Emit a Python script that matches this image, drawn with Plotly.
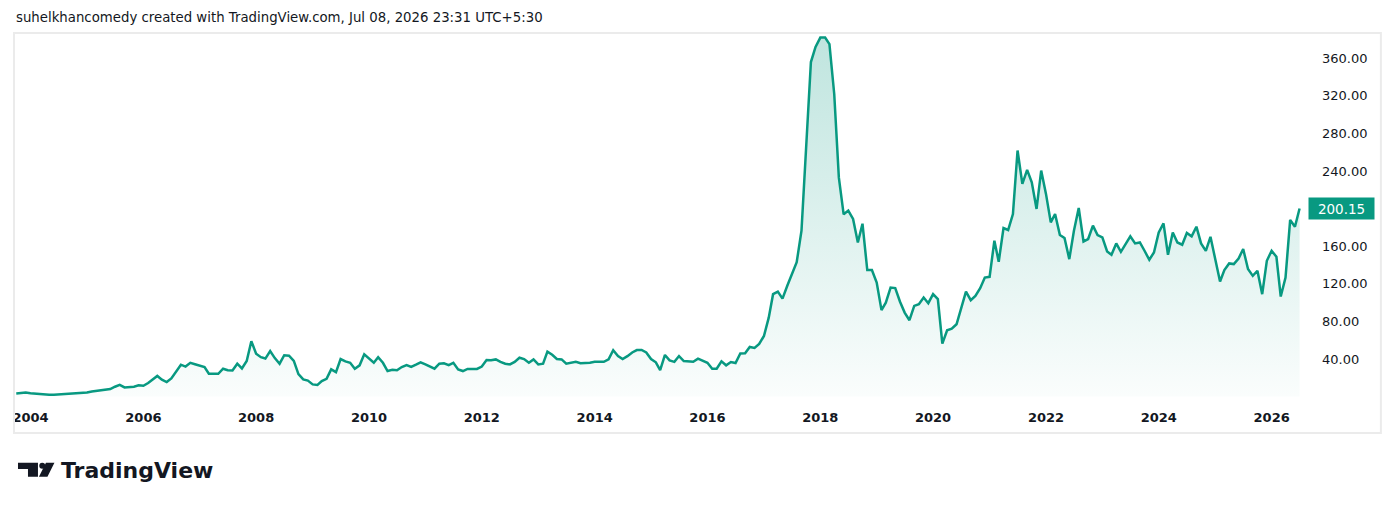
import pandas as pd
import plotly.graph_objects as go

# Monthly closes (Oct 2003 .. Jul 2026)
close_2003 = [3.4, 4.2, 4.4]
close_2004 = [3.5, 3.0, 2.3, 2.1, 2.1, 2.0, 2.3, 2.6, 3.0, 3.0, 3.0, 3.6]
close_2005 = [4.3, 5.5, 6.2, 7.0, 7.6, 8.0, 10.5, 12.5, 9.8, 9.9, 10.5, 12.0]
close_2006 = [11.5, 14.5, 18.5, 22.0, 18.0, 15.5, 19.4, 27.0, 34.0, 32.0, 36.0, 34.5]
close_2007 = [33.0, 31.5, 24.3, 24.3, 24.3, 29.7, 28.0, 27.7, 35.0, 30.0, 37.9, 59.0]
close_2008 = [45.7, 42.0, 40.5, 48.5, 41.0, 35.0, 44.0, 43.5, 38.0, 24.0, 18.3, 17.0]
close_2009 = [13.0, 12.5, 16.5, 19.0, 29.0, 26.0, 40.0, 37.5, 36.0, 29.7, 33.3, 45.0]
close_2010 = [40.7, 36.0, 42.0, 36.0, 27.2, 28.5, 28.0, 31.5, 33.6, 31.6, 34.0, 36.5]
close_2011 = [34.3, 32.0, 29.7, 35.0, 35.4, 33.5, 36.0, 29.0, 27.2, 29.5, 29.2, 29.5]
close_2012 = [32.0, 39.0, 38.7, 39.6, 37.0, 35.0, 34.3, 37.0, 41.4, 40.0, 36.0, 39.6]
close_2013 = [34.3, 35.0, 47.8, 44.5, 40.0, 39.6, 35.0, 36.0, 37.0, 35.5, 35.4, 36.0]
close_2014 = [37.0, 37.0, 37.0, 39.6, 49.3, 43.2, 40.0, 43.0, 47.0, 49.5, 49.6, 47.0]
close_2015 = [40.0, 36.5, 28.3, 44.3, 38.6, 37.0, 43.2, 37.9, 37.5, 37.0, 40.4, 37.9]
close_2016 = [36.0, 29.7, 29.7, 37.5, 33.3, 36.8, 35.7, 46.0, 46.2, 52.8, 51.8, 56.0]
close_2017 = [64.5, 84.0, 109.0, 111.8, 104.3, 118.0, 130.0, 143.0, 176.5, 268.0, 356.0, 372.0]
close_2018 = [382.0, 382.0, 375.0, 322.0, 233.0, 194.0, 198.0, 189.0, 164.0, 184.0, 134.6, 134.6]
close_2019 = [121.4, 92.0, 100.0, 116.0, 115.5, 101.0, 89.4, 81.3, 96.5, 98.3, 105.4, 99.4]
close_2020 = [109.0, 103.7, 56.3, 70.6, 72.3, 77.0, 93.0, 111.8, 102.6, 107.2, 115.4, 126.7]
close_2021 = [127.5, 165.9, 143.5, 179.4, 177.3, 194.3, 261.9, 226.3, 241.3, 228.0, 199.7, 240.5]
close_2022 = [215.7, 185.4, 194.3, 172.0, 168.7, 146.3, 176.5, 200.7, 165.1, 167.7, 181.9, 171.9]
close_2023 = [169.4, 154.5, 150.9, 163.0, 154.1, 162.3, 170.5, 163.0, 164.0, 155.2, 145.6, 153.4]
close_2024 = [174.7, 184.3, 150.9, 174.7, 164.0, 161.6, 174.1, 170.5, 180.8, 163.0, 155.0, 170.0]
close_2025 = [144.5, 122.5, 134.6, 141.7, 141.0, 147.0, 157.0, 135.7, 128.5, 133.9, 109.0, 144.5]
close_2026 = [155.2, 148.8, 106.5, 126.7, 188.0, 180.8, 200.15]

closes = (close_2003 + close_2004 + close_2005 + close_2006 + close_2007 + close_2008
          + close_2009 + close_2010 + close_2011 + close_2012 + close_2013 + close_2014
          + close_2015 + close_2016 + close_2017 + close_2018 + close_2019 + close_2020
          + close_2021 + close_2022 + close_2023 + close_2024 + close_2025 + close_2026)
dates = pd.date_range("2003-10-01", periods=len(closes), freq="MS")

year_ticks = [str(y) for y in range(2004, 2027, 2)]
price_ticks = [40, 80, 120, 160, 240, 280, 320, 360]  # 200 sits under the last-price tag

header = "suhelkhancomedy created with TradingView.com, Jul 08, 2026 23:31 UTC+5:30"
GREEN = "#089981"
TEXT = "#131722"
FONT = "DejaVu Sans"

# page geometry (pixels)
W, H = 1394, 509
L, R, T, B = 12, 1305, 33, 400
px_per_day = 56.5 / 365.25
x_first_tick = 28.5  # Jan 2004


def px(x):
    return (x - L) / (R - L)


def py(y):
    return (B - y) / (B - T)


x0 = pd.Timestamp("2004-01-01") - pd.Timedelta(days=(x_first_tick - L) / px_per_day)
x1 = x0 + pd.Timedelta(days=(R - L) / px_per_day)

fig = go.Figure()
fig.add_trace(go.Scatter(
    x=dates, y=closes, mode="lines",
    line=dict(color=GREEN, width=2.5),
    fill="tozeroy",
    fillgradient=dict(type="vertical",
                      colorscale=[[0, "rgba(8,153,129,0.02)"], [1, "rgba(8,153,129,0.26)"]],
                      start=0, stop=386),
    hoverinfo="skip",
))

fig.update_layout(
    width=W, height=H,
    margin=dict(l=L, r=W - R, t=T, b=H - B),
    paper_bgcolor="white", plot_bgcolor="white",
    showlegend=False,
    xaxis=dict(
        range=[x0, x1], showgrid=False, zeroline=False, showline=False, ticks="",
        tickvals=[pd.Timestamp(f"{y}-01-01") for y in year_ticks], ticktext=year_ticks,
        tickfont=dict(family=FONT, size=13, color=TEXT, weight="bold"),
        ticklabelstandoff=8,
    ),
    yaxis=dict(
        range=[-3.6, 386.9], side="right", showgrid=False, zeroline=False, showline=False,
        ticks="", tickvals=price_ticks, tickformat=".2f",
        tickfont=dict(family=FONT, size=13, color=TEXT),
        ticklabelstandoff=16,
    ),
)

# outer frame of the chart area
fig.add_shape(type="rect", xref="paper", yref="paper",
              x0=px(12), x1=px(1381), y0=py(433), y1=py(33),
              line=dict(color="#ebebeb", width=2), layer="above")

# header line
fig.add_annotation(text=header, xref="paper", yref="paper", x=px(12), y=py(18),
                   xanchor="left", yanchor="middle", showarrow=False,
                   font=dict(family=FONT, size=13.3, color=TEXT))

# last price label
fig.add_annotation(text=f"{closes[-1]:.2f}", xref="paper", yref="y",
                   x=px(1308), y=closes[-1], xanchor="left", yanchor="middle",
                   showarrow=False, width=65, height=21, bgcolor=GREEN, borderpad=0,
                   font=dict(family=FONT, size=13.5, color="white"))

# TradingView logo mark
fig.add_shape(type="path", xref="paper", yref="paper", fillcolor=TEXT, line_width=0,
              path=(f"M {px(16)} {py(462.7)} L {px(36)} {py(462.7)} L {px(36)} {py(476.7)} "
                    f"L {px(26)} {py(476.7)} L {px(26)} {py(469)} L {px(16)} {py(469)} Z"))
fig.add_shape(type="circle", xref="paper", yref="paper", fillcolor=TEXT, line_width=0,
              x0=px(37.3), x1=px(43.3), y0=py(468.7), y1=py(462.7))
fig.add_shape(type="path", xref="paper", yref="paper", fillcolor=TEXT, line_width=0,
              path=(f"M {px(44)} {py(462.7)} L {px(52.5)} {py(462.7)} L {px(45.5)} {py(476.7)} "
                    f"L {px(37)} {py(476.7)} Z"))
fig.add_annotation(text="TradingView", xref="paper", yref="paper", x=px(57), y=py(470),
                   xanchor="left", yanchor="middle", showarrow=False,
                   font=dict(family=FONT, size=22, color=TEXT, weight="bold"))

# the page is photographed from its top-left corner, so drop the body margin
fig.write_html("out.html", config={"displayModeBar": False},
               post_script="document.body.style.margin='0';")
